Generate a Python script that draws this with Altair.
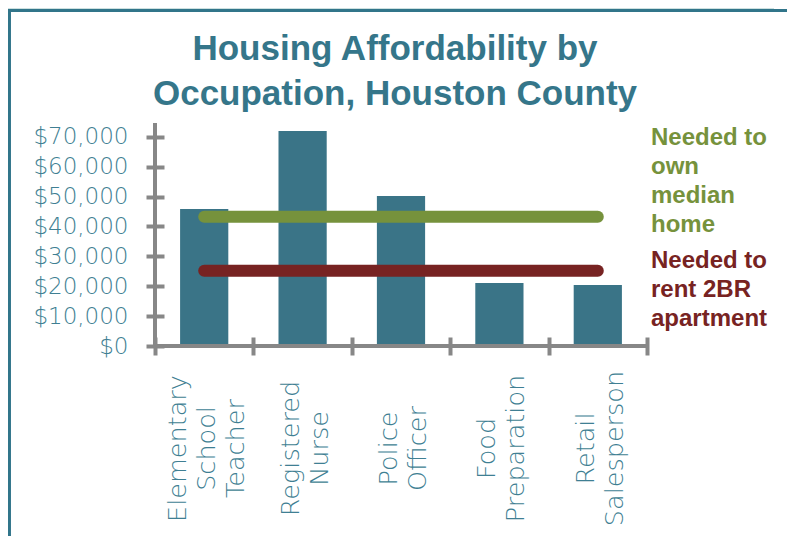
import altair as alt
import pandas as pd

# ---- data ----
occupations = ["Elementary School Teacher", "Registered Nurse", "Police Officer",
               "Food Preparation", "Retail Salesperson"]
salaries = [45800, 71900, 50200, 21100, 20400]

threshold_names = ["Needed to own median home", "Needed to rent 2BR apartment"]
threshold_values = [43200, 25200]
threshold_labels = ["Needed to\nown\nmedian\nhome", "Needed to\nrent 2BR\napartment"]
threshold_colors = ["#76923c", "#772322"]

y_ticks = [0, 10000, 20000, 30000, 40000, 50000, 60000, 70000]
y_max = 74600
title_text = "Housing Affordability by\nOccupation, Houston County"

# ---- styling ----
W, H = 492, 223
BAR = "#3a7487"
TEAL = "#35768a"
LABEL = "#3f7f93"
GRAY = "#878787"
LH = 29

bars_df = pd.DataFrame({"occupation": occupations, "salary": salaries})
lines_df = pd.DataFrame(
    [{"series": n, "occupation": o, "salary": v}
     for n, v in zip(threshold_names, threshold_values) for o in occupations]
)

x_enc = alt.X(
    "occupation:N", sort=occupations, title=None,
    scale=alt.Scale(domain=occupations, paddingInner=0, paddingOuter=0),
    axis=alt.Axis(
        domain=False, grid=False, offset=-9, tickSize=18, tickWidth=4,
        tickColor=GRAY, tickBand="extent",
        labelAngle=270, labelAlign="center", labelBaseline="middle",
        labelPadding=93, labelFont="DejaVu Sans", labelFontWeight=200,
        labelFontSize=25.5, labelColor=LABEL, labelLineHeight=LH,
        labelExpr="split(datum.label, ' ')", labelLimit=0,
        labelOverlap=False, labelBound=False,
        labelOffset={
            "condition": {"test": "length(split(datum.label, ' ')) > 2", "value": -LH + 2},
            "value": -LH / 2 + 2,
        },
    ),
)
y_enc = alt.Y(
    "salary:Q", title=None,
    scale=alt.Scale(domain=[0, y_max], nice=False, zero=True),
    axis=alt.Axis(
        domain=False, grid=False, offset=-9, tickSize=18, tickWidth=4,
        tickColor=GRAY, values=y_ticks, format="$,.0f",
        labelFont="DejaVu Sans", labelFontWeight=200, labelFontSize=23,
        labelColor=LABEL, labelPadding=18,
    ),
)

bars = alt.Chart(bars_df).mark_bar(
    color=BAR, width=alt.RelativeBandSize(0.49)
).encode(x=x_enc, y=y_enc)

lines = alt.Chart(lines_df).mark_line(strokeWidth=12, strokeCap="round").encode(
    x=x_enc, y=y_enc,
    color=alt.Color("series:N", legend=None,
                    scale=alt.Scale(domain=threshold_names, range=threshold_colors)),
    detail="series:N",
)

y_domain = alt.Chart(bars_df).mark_rule(color=GRAY, strokeWidth=4).encode(
    x=alt.value(0), y=alt.value(0), y2=alt.value(H)
)
x_domain = alt.Chart(bars_df).mark_rule(color=GRAY, strokeWidth=4).encode(
    x=alt.value(0), x2=alt.value(W), y=alt.value(H)
)

annotations = []
for lbl, col, ypix in zip(threshold_labels, threshold_colors, [22, 145]):
    annotations.append(
        alt.Chart(pd.DataFrame({"t": [lbl]})).mark_text(
            font="Liberation Sans", fontSize=24, fontWeight="bold", color=col,
            align="left", baseline="alphabetic", lineBreak="\n", lineHeight=29,
        ).encode(text="t:N", x=alt.value(W + 4), y=alt.value(ypix))
    )

title = alt.Chart(pd.DataFrame({"t": [title_text]})).mark_text(
    font="Liberation Sans", fontSize=35, fontWeight="bold", color=TEAL,
    align="center", baseline="alphabetic", lineBreak="\n", lineHeight=45,
).encode(text="t:N", x=alt.value(240), y=alt.value(-63))

# decorative frame of the slide
frame_v = alt.Chart(bars_df).mark_rule(color="#31758a", strokeWidth=3).encode(
    x=alt.value(-146), y=alt.value(-113), y2=alt.value(440)
)
frame_h = alt.Chart(bars_df).mark_rule(color="#31758a", strokeWidth=3).encode(
    x=alt.value(-147), x2=alt.value(650), y=alt.value(-112.5)
)
strip = alt.Chart(bars_df).mark_rule(color="#cde0e0", strokeWidth=2).encode(
    x=alt.value(-147), x2=alt.value(619), y=alt.value(-115)
)

chart = alt.layer(
    strip, frame_v, frame_h, bars, lines, y_domain, x_domain, title, *annotations
).properties(
    width=W, height=H,
    autosize=alt.AutoSizeParams(type="none"),
    padding={"left": 147, "top": 115, "right": 140, "bottom": 190},
    background="white",
).configure_view(stroke=None)

chart.save("out.html", embed_options={"renderer": "svg", "actions": False})
